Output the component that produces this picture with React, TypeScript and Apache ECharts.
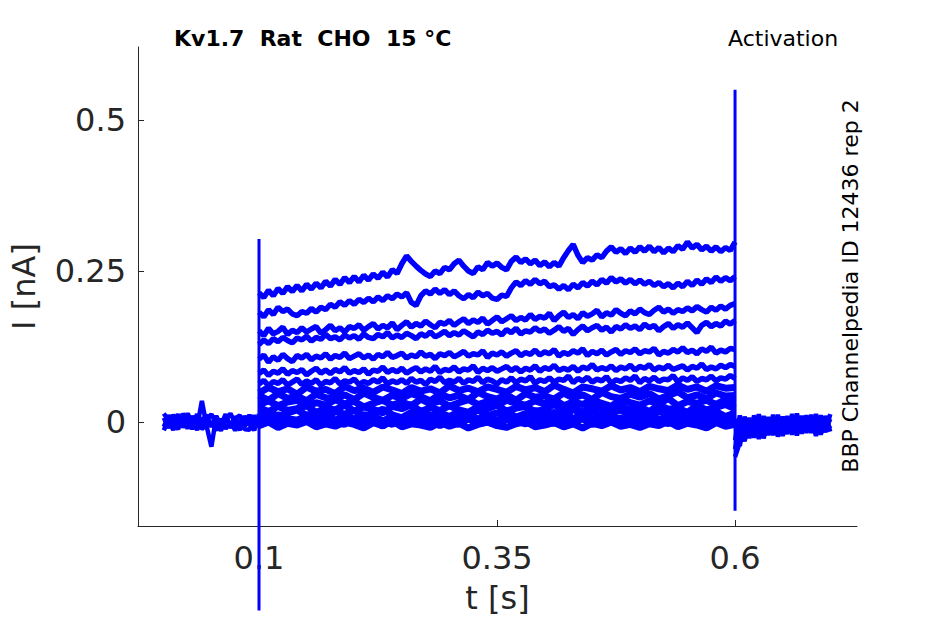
import React, { useEffect, useRef } from "react";
import * as echarts from "echarts";

// timing of the protocol (s)
const HOLD_T0 = 0;
const STEP_ON = 0.1;
const STEP_OFF = 0.6;
const FINE_DT = 0.005;
const COARSE_DT = 0.01;

// axis ranges and ticks
const X_MIN = -0.0271;
const X_MAX = 0.7281;
const Y_MIN = -0.1722;
const Y_MAX = 0.6209;
const xTicks = [0.1, 0.35, 0.6];
const xTickLabels = ["0.1", "0.35", "0.6"];
const yTicks = [0, 0.25, 0.5];
const yTickLabels = ["0", "0.25", "0.5"];

// currents in pA

// holding period 0 .. 0.1 s, every 5 ms
const holdA = [7, -10, 12, -6, 9, -11, 10, -8, 35, -7, -41, 8, -10, 11, -7, 9, -12, 10, -6, 11, -9];
const holdB = [-8, 11, -5, 13, -9, 7, -12, 9, -4, 12, -8, 10, -5, 13, -10, 6, 11, -7, 12, -10, 5];
const holdC = [14, 2, -13, 4, -3, 14, -1, -13, 6, 2, 13, -3, -14, 3, 14, -2, -13, 4, 1, -14, 13];
const holdD = [-14, 5, 1, -12, 14, 0, -6, 13, -12, -4, 0, -14, 5, -11, 0, -14, 3, -12, -13, 6, -3];

// capacitive transients at step on / off (peak, trough)
const onTransient = [303, -312];
const offTransient = [550, -147];

// step 0.1 .. 0.6 s, every 5 ms (largest sweeps)
const sweep1 = [
  214, 206, 218, 209, 221, 213, 224, 216, 226, 217,
  228, 220, 230, 222, 233, 225, 236, 228, 239, 231,
  241, 232, 243, 235, 245, 238, 248, 240, 252, 246,
  262, 275, 266, 258, 251, 245, 241, 250, 246, 256,
  252, 262, 268, 258, 250, 246, 257, 252, 264, 258,
  263, 256, 252, 266, 273, 264, 270, 262, 268, 259,
  265, 257, 264, 258, 272, 284, 294, 276, 264, 272,
  268, 277, 272, 283, 290, 281, 287, 279, 288, 281,
  290, 283, 291, 282, 289, 280, 288, 282, 292, 286,
  298, 288, 294, 285, 291, 283, 290, 282, 289, 284,
  298,
];
const sweep2 = [
  182, 174, 186, 178, 190, 183, 187, 179, 176, 183,
  180, 188, 182, 190, 186, 195, 190, 199, 193, 201,
  195, 203, 198, 205, 199, 207, 201, 209, 204, 212,
  207, 214, 198, 193, 209, 217, 212, 220, 213, 219,
  211, 217, 209, 204, 211, 206, 215, 209, 213, 205,
  203, 210, 208, 222, 232, 226, 234, 228, 236, 229,
  233, 224, 227, 220, 226, 219, 228, 222, 231, 225,
  233, 227, 236, 230, 239, 232, 237, 230, 236, 229,
  235, 228, 233, 226, 231, 224, 229, 222, 230, 224,
  233, 226, 235, 228, 237, 231, 240, 233, 239, 234,
  241,
];
const sweep3 = [
  151, 143, 155, 146, 150, 157, 145, 152, 148, 156,
  149, 154, 158, 147, 153, 160, 151, 156, 149, 158,
  155, 161, 152, 158, 163, 154, 160, 156, 164, 153,
  160, 166, 157, 163, 159, 167, 161, 156, 165, 162,
  168, 160, 166, 171, 163, 169, 165, 172, 162, 168,
  174, 166, 171, 176, 168, 173, 169, 178, 170, 175,
  172, 180, 168, 176, 182, 173, 178, 171, 181, 175,
  179, 185, 174, 181, 177, 186, 180, 176, 184, 179,
  187, 181, 178, 185, 190, 182, 187, 180, 186, 183,
  189, 184, 191, 186, 182, 190, 185, 192, 187, 193,
  196,
];
const sweep4 = [
  128, 136, 130, 138, 133, 140, 135, 131, 139, 136,
  142, 134, 140, 137, 145, 138, 141, 136, 144, 139,
  143, 137, 146, 140, 138, 145, 141, 148, 139, 144,
  140, 147, 143, 138, 146, 142, 149, 141, 145, 150,
  143, 148, 144, 151, 146, 141, 149, 145, 152, 147,
  150, 144, 153, 148, 155, 146, 151, 149, 156, 150,
  154, 147, 152, 158, 150, 155, 145, 153, 159, 151,
  156, 160, 152, 157, 149, 158, 154, 161, 155, 159,
  153, 162, 156, 160, 151, 158, 163, 155, 161, 157,
  164, 156, 148, 160, 165, 158, 163, 159, 167, 162,
  168,
];
const sweep5 = [
  104, 111, 99, 108, 102, 112, 105, 100, 110, 106,
  112, 103, 109, 106, 113, 104, 110, 107, 114, 105,
  109, 113, 106, 111, 104, 112, 108, 115, 107, 110,
  114, 106, 111, 108, 116, 109, 112, 105, 113, 110,
  115, 108, 112, 117, 109, 113, 111, 118, 107, 114,
  111, 116, 109, 114, 118, 110, 115, 112, 119, 111,
  116, 113, 120, 109, 115, 112, 118, 114, 121, 110,
  117, 113, 119, 111, 116, 120, 112, 118, 115, 121,
  113, 118, 116, 122, 111, 117, 114, 120, 116, 123,
  115, 119, 113, 121, 117, 124, 114, 119, 116, 122,
  120,
];
const sweep6 = [
  80, 86, 77, 84, 81, 88, 79, 85, 82, 87,
  78, 84, 89, 81, 86, 80, 87, 83, 90, 81,
  85, 82, 88, 79, 86, 84, 91, 82, 87, 83,
  89, 81, 86, 90, 83, 88, 84, 92, 82, 87,
  85, 91, 83, 88, 86, 93, 82, 89, 85, 90,
  84, 88, 92, 85, 90, 83, 89, 86, 93, 84,
  90, 87, 94, 85, 89, 86, 92, 84, 91, 88,
  95, 86, 90, 87, 93, 85, 91, 88, 94, 86,
  92, 89, 95, 86, 91, 88, 94, 87, 90, 93,
  86, 92, 89, 96, 87, 91, 88, 94, 90, 95,
  92,
];
const sweep7 = [
  63, 69, 60, 67, 64, 70, 61, 66, 71, 62,
  68, 64, 70, 61, 67, 65, 72, 63, 68, 66,
  71, 62, 67, 64, 70, 66, 73, 63, 68, 65,
  70, 64, 72, 66, 69, 62, 71, 67, 74, 65,
  69, 66, 72, 64, 70, 67, 74, 65, 71, 68,
  63, 70, 66, 73, 65, 71, 68, 75, 64, 70,
  67, 73, 66, 71, 69, 76, 65, 72, 68, 74,
  66, 71, 68, 75, 64, 70, 67, 73, 69, 76,
  65, 72, 68, 74, 67, 71, 70, 77, 66, 73,
  69, 75, 67, 72, 70, 76, 68, 73, 71, 77,
  72,
];

// step 0.1 .. 0.6 s, every 10 ms (small sweeps, packed near zero)
const sweep8 = [
  48, 57, 50, 55, 46, 58, 51, 54, 47, 59,
  52, 56, 49, 58, 53, 47, 57, 51, 55, 48,
  60, 52, 56, 50, 58, 54, 49, 59, 53, 57,
  50, 61, 54, 48, 58, 55, 51, 60, 53, 57,
  50, 59, 55, 52, 61, 54, 58, 51, 60, 56,
  57,
];
const sweep9 = [
  44, 36, 47, 39, 43, 35, 46, 40, 38, 45,
  37, 48, 41, 36, 44, 39, 47, 42, 35, 46,
  40, 44, 37, 49, 42, 38, 45, 36, 47, 41,
  43, 38, 48, 40, 45, 37, 49, 42, 39, 46,
  41, 47, 38, 44, 50, 40, 45, 39, 48, 43,
  44,
];
const sweep10 = [
  29, 35, 27, 33, 36, 26, 32, 28, 37, 30,
  34, 25, 31, 36, 28, 33, 27, 38, 30, 35,
  26, 32, 37, 29, 34, 27, 36, 31, 28, 35,
  30, 38, 27, 33, 29, 36, 31, 26, 37, 32,
  28, 35, 30, 39, 27, 34, 31, 36, 29, 37,
  33,
];
const sweep11 = [
  24, 17, 26, 19, 22, 27, 16, 23, 20, 28,
  18, 25, 21, 15, 26, 22, 29, 17, 24, 19,
  27, 20, 16, 25, 22, 28, 18, 23, 26, 17,
  21, 29, 19, 24, 16, 27, 22, 18, 26, 20,
  25, 17, 28, 21, 23, 16, 27, 20, 24, 29,
  22,
];
const sweep12 = [
  12, 18, 9, 15, 20, 11, 16, 8, 17, 13,
  19, 10, 14, 21, 12, 7, 16, 19, 11, 15,
  9, 17, 13, 20, 10, 15, 18, 8, 14, 19,
  12, 16, 9, 21, 13, 17, 10, 15, 20, 11,
  14, 8, 18, 12, 16, 10, 19, 13, 17, 9,
  15,
];
const sweep13 = [
  10, 4, 12, 6, 2, 11, 7, 13, 3, 9,
  5, 12, 8, 1, 10, 6, 14, 4, 9, 11,
  3, 8, 13, 5, 10, 2, 12, 7, 4, 11,
  9, 3, 14, 6, 11, 5, 8, 12, 2, 10,
  7, 13, 4, 9, 6, 12, 3, 10, 14, 5,
  8,
];
const sweep14 = [
  1, 7, -2, 5, 3, 8, -3, 4, 0, 6,
  -1, 5, 9, 2, -4, 6, 3, 8, -2, 4,
  7, 0, 5, -3, 9, 2, 6, -1, 4, 8,
  1, -2, 6, 3, 10, -1, 5, 2, 7, -3,
  4, 9, 0, 6, -2, 3, 8, 1, 5, -1,
  4,
];
const sweep15 = [
  -3, 4, -6, 2, -1, 5, -5, 3, 0, -4,
  6, -2, 1, -7, 4, -3, 5, -1, 3, -6,
  2, -4, 6, -2, 0, -5, 4, 1, -3, 5,
  -1, 3, -6, 2, 5, -4, 0, 4, -2, 6,
  -5, 1, 3, -3, 6, -1, -4, 2, 5, -2,
  0,
];
const sweep16 = [
  -6, 0, -9, -2, -5, 1, -8, -3, -7, 0,
  -4, -10, -1, -6, 2, -8, -3, -5, -9, -1,
  -7, -2, -10, -4, 0, -6, -9, -3, 1, -8,
  -5, -1, -8, -3, -10, -2, -6, 0, -7, -4,
  -9, -3, -6, 1, -8, -2, -5, -10, -1, -7,
  -4,
];

// tail after the step 0.6 .. 0.7 s, every 5 ms
const tailA = [-58, -34, 9, -27, 11, -24, 10, -22, 12, -21, 9, -20, 13, -19, 10, -18, 12, -20, 11, -17, 13];
const tailB = [-30, 11, -30, 7, -26, 13, -23, 8, -22, 12, -20, 10, -21, 14, -19, 11, -18, 13, -20, 10, -16];
const tailC = [5, -40, 2, -22, 4, -28, 3, -17, 6, -24, 2, -14, 5, -22, 4, -12, 7, -23, 3, -14, 5];
const tailD = [-45, -5, -32, 0, -20, 5, -27, 0, -16, 6, -23, 2, -12, 7, -19, 3, -13, 8, -21, 4, -11];

const fineSweeps = [sweep1, sweep2, sweep3, sweep4, sweep5, sweep6, sweep7];
const coarseSweeps = [sweep8, sweep9, sweep10, sweep11, sweep12, sweep13, sweep14, sweep15, sweep16];
const holdSweeps = [holdA, holdB, holdC, holdD];
const tailSweeps = [tailA, tailB, tailC, tailD];

const BLUE = "#0000ff";
const AXIS = "#262626";
const FONT = "DejaVu Sans";

// pA samples -> [t (s), I (nA)]
const toPoints = (t0: number, dt: number, values: number[]) =>
  values.map((v, i) => [Number((t0 + i * dt).toFixed(4)), v / 1000]);

const lineSeries = (data: number[][], width: number) => ({
  type: "line" as const,
  data,
  showSymbol: false,
  symbol: "none",
  clip: false,
  silent: true,
  lineStyle: { color: BLUE, width, join: "bevel" },
  itemStyle: { color: BLUE },
});

const App: React.FC = () => {
  const chartRef = useRef<HTMLDivElement>(null);

  useEffect(() => {
    if (!chartRef.current) return;

    const chart = echarts.init(chartRef.current, undefined, { renderer: "svg" });

    const series = [
      ...holdSweeps.map((s) => lineSeries(toPoints(HOLD_T0, FINE_DT, s), 4.5)),
      ...coarseSweeps.map((s) => lineSeries(toPoints(STEP_ON, COARSE_DT, s), 7)),
      ...fineSweeps.map((s) => lineSeries(toPoints(STEP_ON, FINE_DT, s), 5.5)),
      ...tailSweeps.map((s) => lineSeries(toPoints(STEP_OFF, FINE_DT, s), 4.5)),
      lineSeries(
        [[STEP_ON, 0], [STEP_ON, onTransient[0] / 1000], [STEP_ON, onTransient[1] / 1000], [STEP_ON, 0]],
        3
      ),
      lineSeries(
        [[STEP_OFF, 0], [STEP_OFF, offTransient[0] / 1000], [STEP_OFF, offTransient[1] / 1000], [STEP_OFF, 0]],
        3
      ),
    ];

    const option: any = {
      animation: false,
      backgroundColor: "#ffffff",
      textStyle: { fontFamily: FONT },
      title: [
        {
          text: "Kv1.7  Rat  CHO  15 °C",
          left: 174,
          top: 27,
          padding: 0,
          textStyle: { fontFamily: FONT, fontSize: 22, fontWeight: "bold", color: "#000000" },
        },
        {
          text: "Activation",
          left: 728,
          top: 27,
          padding: 0,
          textStyle: { fontFamily: FONT, fontSize: 22, fontWeight: "normal", color: "#000000" },
        },
      ],
      graphic: [
        {
          type: "text",
          x: 850,
          y: 286,
          rotation: Math.PI / 2,
          style: {
            text: "BBP Channelpedia ID 12436 rep 2",
            font: `22px "${FONT}"`,
            fill: "#000000",
            align: "center",
            verticalAlign: "middle",
          },
        },
      ],
      grid: { left: 138, right: 88, top: 47, bottom: 98, containLabel: false },
      xAxis: {
        type: "value",
        min: X_MIN,
        max: X_MAX,
        name: "t [s]",
        nameLocation: "middle",
        nameGap: 56,
        nameTextStyle: { fontFamily: FONT, fontSize: 32, color: AXIS },
        axisLine: { show: true, onZero: false, lineStyle: { color: AXIS, width: 1 } },
        axisTick: { show: true, inside: true, length: 6, customValues: xTicks, lineStyle: { color: AXIS } },
        axisLabel: {
          customValues: xTicks,
          margin: 16,
          fontFamily: FONT,
          fontSize: 32,
          color: AXIS,
          formatter: (v: number) => xTickLabels[xTicks.indexOf(v)] ?? String(v),
        },
        splitLine: { show: false },
      },
      yAxis: {
        type: "value",
        min: Y_MIN,
        max: Y_MAX,
        name: "I [nA]",
        nameLocation: "middle",
        nameGap: 98,
        nameRotate: 90,
        nameTextStyle: { fontFamily: FONT, fontSize: 32, color: AXIS },
        axisLine: { show: true, onZero: false, lineStyle: { color: AXIS, width: 1 } },
        axisTick: { show: true, inside: true, length: 6, customValues: yTicks, lineStyle: { color: AXIS } },
        axisLabel: {
          customValues: yTicks,
          margin: 12,
          fontFamily: FONT,
          fontSize: 32,
          color: AXIS,
          formatter: (v: number) => yTickLabels[yTicks.indexOf(v)] ?? String(v),
        },
        splitLine: { show: false },
      },
      series,
    };

    chart.setOption(option);

    const resizeObserver = new ResizeObserver(() => chart.resize());
    resizeObserver.observe(chartRef.current);

    return () => {
      resizeObserver.disconnect();
      chart.dispose();
    };
  }, []);

  return (
    <div
      ref={chartRef}
      style={{ position: "fixed", left: 0, top: 0, width: "945px", height: "624px", background: "#fff" }}
    />
  );
};

export default App;
